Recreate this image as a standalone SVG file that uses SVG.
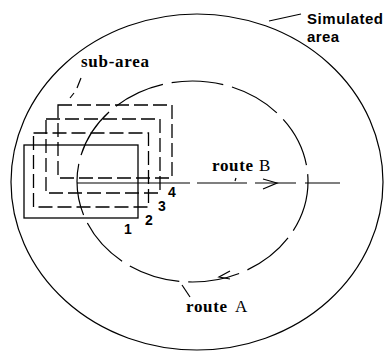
<svg xmlns="http://www.w3.org/2000/svg" width="384" height="353" viewBox="0 0 384 353">
<style>
.ln{fill:none;stroke:#000;stroke-width:1.2}
.rd{fill:none;stroke:#000;stroke-width:1.3;stroke-dasharray:14 5}
.rs{fill:none;stroke:#000;stroke-width:1.3}
.sf{font-family:"Liberation Serif","Times New Roman",serif;font-weight:bold;font-size:17px;fill:#000}
.sfn{font-family:"Liberation Serif","Times New Roman",serif;font-size:17px;fill:#000}
.ss{font-family:"Liberation Sans",Arial,sans-serif;font-weight:bold;font-size:15px;fill:#000}
.dg{font-family:"Liberation Sans",Arial,sans-serif;font-weight:bold;font-size:14px;fill:#000}
</style>
<rect width="384" height="353" fill="#fff"/>
<g id="simulated-area">
<ellipse class="ln" cx="197" cy="182" rx="186" ry="168"/>
<text class="ss" x="307" y="24" textLength="76" lengthAdjust="spacing">Simulated</text>
<text class="ss" x="307" y="42" textLength="32" lengthAdjust="spacing">area</text>
</g>
<g id="route-A">
<ellipse class="ln" cx="192.5" cy="181.5" rx="115.5" ry="100.5" stroke-dasharray="52 9"/>
<polyline class="ln" points="230,271 219,277 230,279"/>
<text class="sf" x="186" y="312" textLength="41" lengthAdjust="spacing">route</text>
<text class="sfn" x="235" y="312" font-size="18">A</text>
</g>
<g id="route-B">
<path class="ln" d="M77,183H190M197,183H247M255,183H296M305,183H340"/>
<polyline class="ln" points="263,179 277,183 263,189"/>
<text class="sf" x="212" y="171" textLength="41" lengthAdjust="spacing">route</text>
<text class="sfn" x="259" y="171">B</text>
</g>
<g id="sub-area-1">
<rect class="rs" x="24" y="145" width="114" height="73"/>
<text class="dg" x="124" y="234">1</text>
</g>
<g id="sub-area-2">
<rect class="rd" x="33.5" y="133" width="115" height="74"/>
<text class="dg" x="145" y="225">2</text>
</g>
<g id="sub-area-3">
<rect class="rd" x="46" y="119" width="114" height="74"/>
<text class="dg" x="158" y="211">3</text>
</g>
<g id="sub-area-4">
<rect class="rd" x="58" y="105" width="114" height="73"/>
<text class="dg" x="168" y="197">4</text>
</g>
<g id="sub-area-label">
<text class="sf" x="81" y="67" textLength="68" lengthAdjust="spacing">sub-area</text>
</g>
<g id="connectors">
<line class="ln" x1="269" y1="21" x2="301" y2="14"/>
<path class="ln" d="M81,78L77,88M74,93L70,98"/>
<line class="ln" x1="236" y1="178" x2="235" y2="181"/>
<line class="ln" x1="182" y1="285" x2="190" y2="297"/>
</g>
</svg>
